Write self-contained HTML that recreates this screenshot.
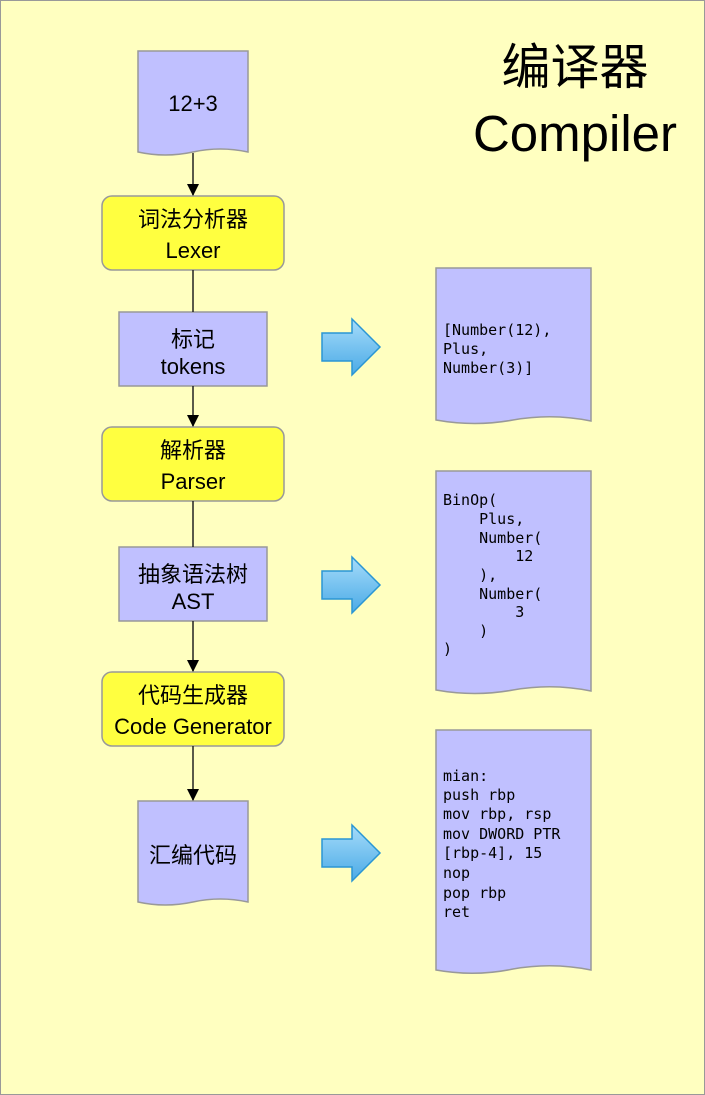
<!DOCTYPE html>
<html><head><meta charset="utf-8"><style>
html,body{margin:0;padding:0;background:#fff}
svg{display:block}
.t{font-family:"Liberation Sans","Noto Sans CJK SC",sans-serif;font-size:22px;fill:#000;text-anchor:middle}
.m{font-family:"DejaVu Sans Mono","Liberation Mono",monospace;font-size:15px;fill:#000}
</style></head><body>
<svg width="705" height="1095" viewBox="0 0 705 1095" xmlns="http://www.w3.org/2000/svg">
<defs>
<linearGradient id="g" x1="0" y1="0" x2="0" y2="1">
<stop offset="0" stop-color="#a6dcfa"/><stop offset="1" stop-color="#4aaae6"/>
</linearGradient>
<marker id="ah" markerWidth="12" markerHeight="12" refX="11" refY="6" orient="auto" markerUnits="userSpaceOnUse">
<path d="M0,0 L12,6 L0,12 z" fill="#000"/>
</marker>
</defs>
<rect x="0.5" y="0.5" width="704" height="1094" fill="#ffffc0" stroke="#999"/>
<text x="575" y="84" class="t" style="font-size:49px">编译器</text>
<text x="575" y="151" class="t" style="font-size:51px">Compiler</text>

<g stroke="#999" stroke-width="1.5">
<path d="M138,51 H248 V152 Q220,146 193,152 Q165,158 138,152 Z" fill="#c0c0ff"/>
<rect x="102" y="196" width="182" height="74" rx="10" fill="#ffff40"/>
<rect x="119" y="312" width="148" height="74" fill="#c0c0ff"/>
<rect x="102" y="427" width="182" height="74" rx="10" fill="#ffff40"/>
<rect x="119" y="547" width="148" height="74" fill="#c0c0ff"/>
<rect x="102" y="672" width="182" height="74" rx="10" fill="#ffff40"/>
<path d="M138,801 H248 V902 Q220,896 193,902 Q165,908 138,902 Z" fill="#c0c0ff"/>
<path d="M436,268 H591 V421 Q552,413 513,420 Q475,427 436,420 Z" fill="#c0c0ff"/>
<path d="M436,471 H591 V691 Q552,683 513,690 Q475,697 436,690 Z" fill="#c0c0ff"/>
<path d="M436,730 H591 V970 Q552,962 513,969 Q475,977 436,970 Z" fill="#c0c0ff"/>
</g>

<g stroke="#222" stroke-width="1.5" fill="none">
<line x1="193" y1="153" x2="193" y2="195" marker-end="url(#ah)"/>
<line x1="193" y1="270" x2="193" y2="312"/>
<line x1="193" y1="386" x2="193" y2="426" marker-end="url(#ah)"/>
<line x1="193" y1="501" x2="193" y2="547"/>
<line x1="193" y1="621" x2="193" y2="671" marker-end="url(#ah)"/>
<line x1="193" y1="746" x2="193" y2="800" marker-end="url(#ah)"/>
</g>

<g fill="url(#g)" stroke="#2a96d4" stroke-width="1.5">
<path d="M322,333 H352 V319 L380,347 L352,375 V361 H322 Z"/>
<path d="M322,571 H352 V557 L380,585 L352,613 V599 H322 Z"/>
<path d="M322,839 H352 V825 L380,853 L352,881 V867 H322 Z"/>
</g>

<text x="193" y="111" class="t">12+3</text>
<text x="193" y="227" class="t">词法分析器</text>
<text x="193" y="258" class="t">Lexer</text>
<text x="193" y="347" class="t">标记</text>
<text x="193" y="374" class="t">tokens</text>
<text x="193" y="458" class="t">解析器</text>
<text x="193" y="489" class="t">Parser</text>
<text x="193" y="582" class="t">抽象语法树</text>
<text x="193" y="609" class="t">AST</text>
<text x="193" y="703" class="t">代码生成器</text>
<text x="193" y="734" class="t">Code Generator</text>
<text x="193" y="863" class="t">汇编代码</text>

<g class="m">
<text x="443" y="335">[Number(12),</text>
<text x="443" y="354">Plus,</text>
<text x="443" y="373">Number(3)]</text>

<text x="443" y="505">BinOp(</text>
<text x="443" y="524" xml:space="preserve">    Plus,</text>
<text x="443" y="543" xml:space="preserve">    Number(</text>
<text x="443" y="561" xml:space="preserve">        12</text>
<text x="443" y="580" xml:space="preserve">    ),</text>
<text x="443" y="599" xml:space="preserve">    Number(</text>
<text x="443" y="617" xml:space="preserve">        3</text>
<text x="443" y="636" xml:space="preserve">    )</text>
<text x="443" y="654">)</text>

<text x="443" y="781">mian:</text>
<text x="443" y="800">push rbp</text>
<text x="443" y="819">mov rbp, rsp</text>
<text x="443" y="839">mov DWORD PTR</text>
<text x="443" y="858">[rbp-4], 15</text>
<text x="443" y="878">nop</text>
<text x="443" y="898">pop rbp</text>
<text x="443" y="917">ret</text>
</g>
</svg>
</body></html>
